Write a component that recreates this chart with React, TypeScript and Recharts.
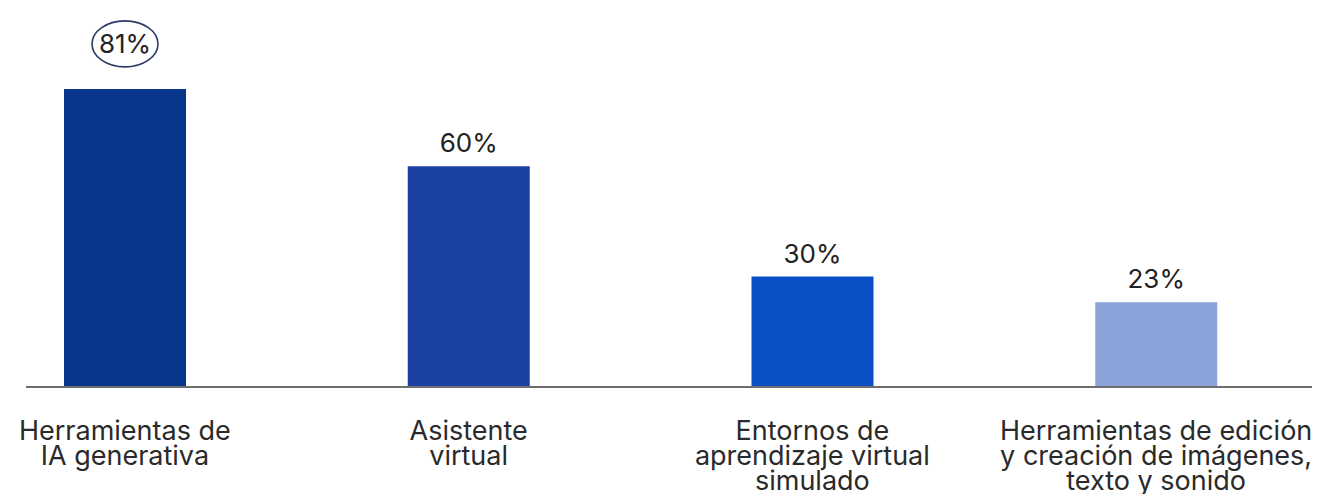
import React from 'react';
import { BarChart, Bar, XAxis, YAxis, Cell, LabelList } from 'recharts';

const categories = [
  ['Herramientas de', 'IA generativa'],
  ['Asistente', 'virtual'],
  ['Entornos de', 'aprendizaje virtual', 'simulado'],
  ['Herramientas de edición', 'y creación de imágenes,', 'texto y sonido'],
];
const values = [81, 60, 30, 23];
const barColors = ['#07368a', '#1a41a3', '#0b4fc6', '#8ba3d9'];
const circledIndex = 0;

const FONT = 'Inter, "Noto Sans", sans-serif';

const data = categories.map((lines, i) => ({
  name: lines.join('\n'),
  value: values[i],
}));

const CategoryTick = (props: any) => {
  const { x, y, payload } = props;
  const lines: string[] = String(payload.value).split('\n');
  return (
    <text
      x={x}
      y={y + 45}
      textAnchor="middle"
      fill="#2a2a2a"
      fontSize={27}
      fontFamily={FONT}
    >
      {lines.map((line, i) => (
        <tspan key={i} x={x} dy={i === 0 ? 0 : 25}>
          {line}
        </tspan>
      ))}
    </text>
  );
};

const ValueLabel = (props: any) => {
  const { x, y, width, value, index } = props;
  const cx = x + width / 2;
  if (index === circledIndex) {
    const cy = y - 45;
    return (
      <g>
        <ellipse cx={cx} cy={cy} rx={33} ry={23} fill="none" stroke="#2d3b68" strokeWidth={1.6} />
        <text x={cx} y={cy + 9} textAnchor="middle" fill="#222" fontSize={26} fontFamily={FONT}>
          {value}%
        </text>
      </g>
    );
  }
  return (
    <text x={cx} y={y - 14} textAnchor="middle" fill="#222" fontSize={26} fontFamily={FONT}>
      {value}%
    </text>
  );
};

export default function App() {
  return (
    <div style={{ position: 'absolute', left: 0, top: 0, background: '#fff' }}>
      <BarChart
        width={1319}
        height={494}
        data={data}
        margin={{ top: 19, right: 7, bottom: 0, left: 26 }}
      >
        <XAxis
          dataKey="name"
          height={107}
          interval={0}
          tickLine={false}
          axisLine={{ stroke: '#6e6e6e', strokeWidth: 2 }}
          padding={{ left: -73, right: -16 }}
          tick={<CategoryTick />}
        />
        <YAxis hide domain={[0, 100]} />
        <Bar dataKey="value" barSize={122} isAnimationActive={false}>
          {data.map((_, i) => (
            <Cell key={i} fill={barColors[i]} />
          ))}
          <LabelList dataKey="value" content={<ValueLabel />} />
        </Bar>
      </BarChart>
    </div>
  );
}
